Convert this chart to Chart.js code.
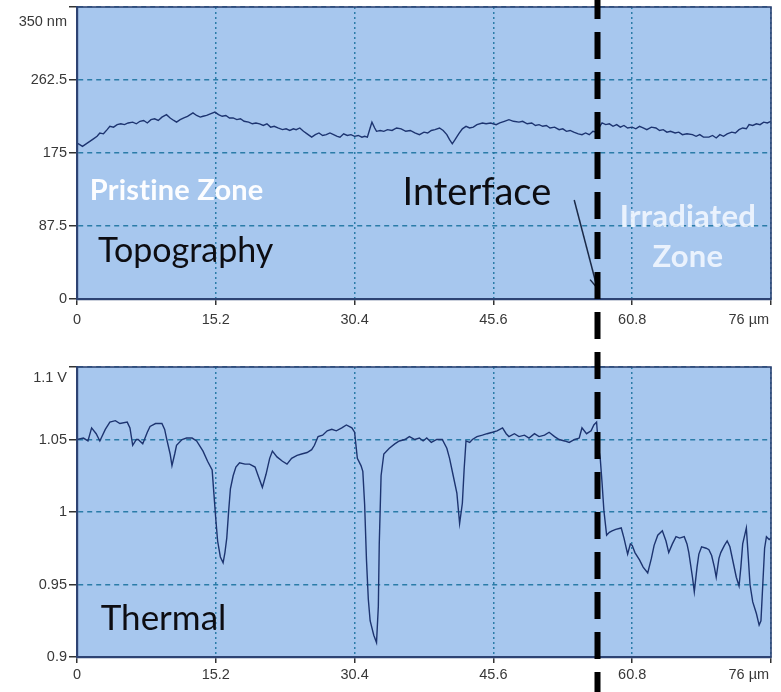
<!DOCTYPE html>
<html><head><meta charset="utf-8">
<script src="https://cdn.jsdelivr.net/npm/chart.js@4/dist/chart.umd.min.js"></script>
<style>
html,body{margin:0;padding:0;background:#fff;width:781px;height:692px;overflow:hidden}
#c1{position:absolute;left:0;top:0;width:781px;height:345px}
#c2{position:absolute;left:0;top:345px;width:781px;height:347px}
</style></head><body>
<canvas id="c1" width="781" height="345"></canvas>
<canvas id="c2" width="781" height="347"></canvas>
<script>
// ---------- data ----------
const xTickValues = [0, 15.2, 30.4, 45.6, 60.8, 76];
const xTickLabels = ['0', '15.2', '30.4', '45.6', '60.8', '76 µm'];

const topoTickValues = [0, 87.5, 175, 262.5, 350];
const topoTickLabels = ['0', '87.5', '175', '262.5', '350 nm'];

const thermTickValues = [0.9, 0.95, 1.0, 1.05, 1.1];
const thermTickLabels = ['0.9', '0.95', '1', '1.05', '1.1 V'];

const topoX = [0,0.3,0.6,1.0,1.4,1.8,2.2,2.5,2.9,3.3,
3.6,4.0,4.4,4.8,5.2,5.6,6.1,6.5,6.9,7.3,
7.7,8.1,8.5,8.9,9.3,9.8,10.2,10.6,10.9,11.3,
11.7,12.1,12.7,13.1,13.5,13.8,14.2,14.6,15.1,15.5,
15.9,16.3,16.7,17.1,17.5,17.9,18.3,18.8,19.2,19.6,
20.0,20.4,20.8,21.2,21.6,22.0,22.5,22.9,23.3,23.7,
24.0,24.4,24.8,25.2,25.7,26.1,26.5,26.9,27.3,27.7,
28.1,28.5,28.8,29.2,29.6,30.0,30.4,30.8,31.2,31.5,
31.8,32.1,32.3,32.6,32.8,33.2,33.6,34.0,34.5,35.0,
35.5,36.0,36.5,37.0,37.5,38.0,38.4,38.8,39.2,39.7,
40.1,40.5,40.8,41.1,41.4,41.8,42.2,42.6,43.0,43.4,
43.8,44.4,44.8,45.3,45.9,46.3,46.8,47.3,47.8,48.4,
48.8,49.3,49.8,50.2,50.6,51.0,51.4,51.8,52.3,52.8,
53.2,53.6,54.0,54.4,54.9,55.3,55.7,56.1,56.5,56.9,
57.2,57.5,57.9,58.3,58.7,59.1,59.5,59.9,60.3,60.8,
61.2,61.6,62.0,62.4,62.9,63.4,63.8,64.2,64.6,65.0,
65.5,65.9,66.3,66.8,67.4,67.8,68.2,68.6,69.2,69.6,
70.0,70.4,70.8,71.2,71.7,72.1,72.5,72.9,73.3,73.6,
74.0,74.4,74.8,75.2,75.6,76.0];
const topoY = [187,185,183,186,189,192,195,199,198,203,
207,206,209,210,209,211,212,210,213,214,
211,215,216,214,218,221,217,214,212,215,
217,219,223,220,218,219,220,222,224,221,
219,220,217,217,215,216,213,212,210,211,
210,208,210,206,207,205,203,204,202,204,
203,205,201,198,194,197,199,196,197,199,
197,195,194,198,196,197,195,196,194,195,
194,205,212,205,201,202,201,203,202,205,
204,201,202,199,197,200,199,202,203,205,
202,197,191,186,191,198,204,207,205,206,
209,211,210,211,209,211,213,215,213,212,
213,210,211,208,209,207,208,205,206,203,
204,201,202,200,198,197,199,197,201,200,
206,211,209,210,207,209,206,208,205,206,
204,207,205,203,206,205,202,203,200,201,
199,200,197,198,197,195,197,194,194,196,
193,197,195,198,200,199,203,205,204,209,
208,210,209,212,211,213];

const thermX = [0.0,0.7,1.2,1.6,2.1,2.5,3.1,3.6,4.2,4.7,
5.5,5.8,6.1,6.5,6.7,7.2,7.7,8.0,8.6,9.3,
9.6,9.8,10.2,10.4,10.7,10.9,11.5,12.0,12.6,13.1,
13.8,14.3,14.8,15.0,15.2,15.4,15.7,16.0,16.2,16.4,
16.6,16.8,17.1,17.4,17.8,18.4,18.9,19.5,19.9,20.3,
20.7,21.1,21.4,21.9,22.5,23.0,23.5,24.1,24.6,25.2,
25.7,26.0,26.4,26.9,27.4,27.9,28.4,29.0,29.5,30.1,
30.4,30.7,31.1,31.3,31.5,31.7,31.9,32.1,32.5,32.8,
33.0,33.1,33.3,33.6,34.2,34.8,35.3,35.9,36.4,37.0,
37.5,37.9,38.3,38.8,39.4,40.0,40.5,40.8,41.2,41.6,
41.9,42.2,42.4,42.6,43.0,43.3,43.8,44.4,44.9,45.5,
46.0,46.6,47.0,47.3,47.9,48.4,49.0,49.5,50.1,50.6,
51.2,51.7,52.3,52.8,53.4,53.9,54.5,55.0,55.3,55.8,
56.3,56.6,56.9,57.1,57.3,57.5,57.7,58.0,58.3,58.6,
59.0,59.6,59.9,60.3,60.6,60.8,61.1,61.6,62.0,62.5,
62.9,63.2,63.6,64.1,64.5,64.8,65.2,65.6,66.0,66.5,
66.8,67.0,67.4,67.6,67.9,68.1,68.4,68.9,69.2,69.5,
69.8,70.0,70.3,70.5,70.9,71.2,71.5,71.7,72.2,72.5,
72.7,72.9,73.3,73.5,73.7,74.0,74.4,74.7,74.9,75.1,
75.3,75.5,75.8,76.0];
const thermY = [1.050,1.051,1.049,1.058,1.054,1.049,1.057,1.062,1.063,1.061,
1.062,1.058,1.046,1.050,1.050,1.047,1.055,1.059,1.061,1.061,
1.057,1.051,1.040,1.032,1.040,1.046,1.050,1.051,1.051,1.049,
1.042,1.035,1.029,1.012,0.995,0.980,0.969,0.965,0.972,0.982,
1.000,1.016,1.025,1.031,1.034,1.033,1.033,1.031,1.024,1.017,
1.026,1.037,1.042,1.038,1.035,1.033,1.037,1.039,1.040,1.041,
1.043,1.046,1.052,1.053,1.056,1.057,1.056,1.058,1.060,1.058,
1.055,1.037,1.032,1.028,1.005,0.967,0.940,0.925,0.915,0.910,
0.935,0.978,1.025,1.040,1.044,1.047,1.049,1.050,1.052,1.050,
1.051,1.049,1.051,1.048,1.050,1.050,1.044,1.037,1.025,1.013,
0.992,1.006,1.030,1.049,1.048,1.050,1.052,1.053,1.054,1.055,
1.056,1.058,1.054,1.052,1.054,1.052,1.053,1.051,1.054,1.052,
1.053,1.055,1.052,1.050,1.049,1.048,1.050,1.051,1.058,1.054,
1.056,1.060,1.062,1.045,1.037,1.020,1.001,0.984,0.986,0.987,
0.988,0.989,0.982,0.971,0.978,0.977,0.972,0.967,0.962,0.958,
0.968,0.977,0.984,0.987,0.980,0.972,0.978,0.983,0.982,0.983,
0.978,0.972,0.955,0.945,0.962,0.971,0.976,0.975,0.974,0.970,
0.962,0.955,0.968,0.972,0.977,0.980,0.976,0.970,0.955,0.949,
0.962,0.978,0.989,0.970,0.950,0.938,0.930,0.922,0.925,0.950,
0.975,0.983,0.981,0.982];

const interfaceX = 57.0;

// annotation texts (top panel: data coords x in µm, y in nm; bottom: y in V)
const topNotes = [
  {text: 'Pristine Zone', x: 1.4, y: 118.7, kind: 'zoneL', align: 'left'},
  {text: 'Topography', x: 2.3, y: 44.3, kind: 'label', align: 'left'},
  {text: 'Interface', x: 35.65, y: 112.7, kind: 'big', align: 'left'},
  {text: 'Irradiated', x: 66.9, y: 86.3, kind: 'zoneR', align: 'center'},
  {text: 'Zone', x: 66.9, y: 38.4, kind: 'zoneR', align: 'center'}
];
const bottomNotes = [
  {text: 'Thermal', x: 2.6, y: 0.9186, kind: 'label2', align: 'left'}
];
const arrowFrom = {x: 54.45, y: 118.7};
const arrowTo = {x: 56.97, y: 13.2};

// ---------- styles ----------
const plotBg = '#a7c7ee';
const frameCol = '#2e4473';
const gridCol = 'rgba(30,115,160,0.9)';
const lineCol = '#1d3470';
const tickFont = {family: '"Liberation Sans", Arial, sans-serif', size: 14.5};
const noteFonts = {
  zoneL: {font: 'bold 29px Lato', color: 'rgba(255,255,255,0.96)', spacing: '0.2px'},
  zoneR: {font: 'bold 31px Lato', color: 'rgba(244,248,255,0.88)', spacing: '0.2px'},
  label: {font: '34px Lato', color: '#0d0d12', spacing: '0px'},
  label2: {font: '35px Lato', color: '#0d0d12', spacing: '0px'},
  big: {font: '38px Lato', color: '#0d0d12', spacing: '0px'}
};

function toPoints(xs, ys) { return xs.map((x, i) => ({x: x, y: ys[i]})); }

function panelPlugin(notes, dashOffset, withArrow) {
  return {
    id: 'panel',
    beforeDraw(chart) {
      const a = chart.chartArea, ctx = chart.ctx;
      ctx.save();
      ctx.fillStyle = '#ffffff';
      ctx.fillRect(0, 0, chart.width, chart.height);
      ctx.fillStyle = plotBg;
      ctx.fillRect(a.left, a.top, a.right - a.left, a.bottom - a.top);
      ctx.restore();
    },
    afterDatasetsDraw(chart) {
      const a = chart.chartArea, ctx = chart.ctx;
      ctx.save();
      ctx.strokeStyle = frameCol;
      ctx.lineWidth = 1.6;
      ctx.strokeRect(a.left, a.top, a.right - a.left, a.bottom - a.top);
      ctx.restore();
    },
    afterDraw(chart) {
      const ctx = chart.ctx, xs = chart.scales.x, ys = chart.scales.y;
      ctx.save();
      notes.forEach(n => {
        const f = noteFonts[n.kind];
        ctx.font = f.font;
        if ('letterSpacing' in ctx) ctx.letterSpacing = f.spacing;
        ctx.fillStyle = f.color;
        ctx.textAlign = n.align;
        ctx.textBaseline = 'alphabetic';
        ctx.fillText(n.text, xs.getPixelForValue(n.x), ys.getPixelForValue(n.y));
      });
      if ('letterSpacing' in ctx) ctx.letterSpacing = '0px';
      if (withArrow) {
        const x1 = xs.getPixelForValue(arrowFrom.x), y1 = ys.getPixelForValue(arrowFrom.y);
        const x2 = xs.getPixelForValue(arrowTo.x), y2 = ys.getPixelForValue(arrowTo.y);
        ctx.strokeStyle = '#1b2a48';
        ctx.lineWidth = 1.5;
        ctx.beginPath(); ctx.moveTo(x1, y1); ctx.lineTo(x2, y2); ctx.stroke();
        const ang = Math.atan2(y2 - y1, x2 - x1), L = 11;
        ctx.beginPath();
        ctx.moveTo(x2 - L * Math.cos(ang - 0.45), y2 - L * Math.sin(ang - 0.45));
        ctx.lineTo(x2, y2);
        ctx.lineTo(x2 - L * Math.cos(ang + 0.45), y2 - L * Math.sin(ang + 0.45));
        ctx.stroke();
      }
      const xp = xs.getPixelForValue(interfaceX);
      ctx.strokeStyle = '#000';
      ctx.lineWidth = 6;
      ctx.setLineDash([27, 13]);
      ctx.lineDashOffset = dashOffset;
      ctx.beginPath(); ctx.moveTo(xp, 0); ctx.lineTo(xp, chart.height); ctx.stroke();
      ctx.restore();
    }
  };
}

function makeChart(canvasId, xs, ys, yMin, yMax, yVals, yLabels, labelLH, padTop, xAxisH, xPad, notes, dashOffset, withArrow) {
  return new Chart(document.getElementById(canvasId), {
    type: 'line',
    data: {datasets: [{
      data: toPoints(xs, ys),
      borderColor: lineCol, borderWidth: 1.4, pointRadius: 0, tension: 0, fill: false
    }]},
    options: {
      responsive: false, animation: false, devicePixelRatio: 1,
      layout: {padding: {top: padTop, right: 10, left: 0, bottom: 0}},
      plugins: {legend: {display: false}, tooltip: {enabled: false}},
      scales: {
        x: {
          type: 'linear', min: 0, max: 76,
          afterBuildTicks: s => { s.ticks = xTickValues.map(v => ({value: v})); },
          afterFit: s => { s.height = xAxisH; s.paddingLeft = 0; s.paddingRight = 0; },
          ticks: {
            autoSkip: false, maxRotation: 0, padding: xPad, color: '#383838', font: tickFont,
            callback: (v, i) => i === xTickLabels.length - 1 ? xTickLabels[i] + '\u00a0'.repeat(11) : xTickLabels[i]
          },
          grid: {color: gridCol, lineWidth: 1.5, tickLength: 6, tickColor: '#333', tickWidth: 1.5, tickBorderDash: []},
          border: {display: true, color: frameCol, width: 2.2, dash: [2, 3]}
        },
        y: {
          type: 'linear', min: yMin, max: yMax,
          afterBuildTicks: s => { s.ticks = yVals.map(v => ({value: v})); },
          afterFit: s => { s.width = 77; s.paddingTop = 0; s.paddingBottom = 0; },
          ticks: {
            autoSkip: false, padding: 2, color: '#383838',
            font: Object.assign({}, tickFont, {lineHeight: labelLH}),
            callback: (v, i) => i === yLabels.length - 1 ? ['', yLabels[i]] : yLabels[i]
          },
          grid: {color: gridCol, lineWidth: 1.5, tickLength: 8, tickColor: '#333', tickWidth: 1.5, tickBorderDash: []},
          border: {display: true, color: frameCol, width: 2.2, dash: [5, 4]}
        }
      }
    },
    plugins: [panelPlugin(notes, dashOffset, withArrow)]
  });
}

makeChart('c1', topoX, topoY, 0, 350, topoTickValues, topoTickLabels, 2.1, 7, 46, 6, topNotes, 8, true);
makeChart('c2', thermX, thermY, 0.9, 1.1, thermTickValues, thermTickLabels, 1.55, 22, 35, 3, bottomNotes, 33, false);
</script>
</body></html>
